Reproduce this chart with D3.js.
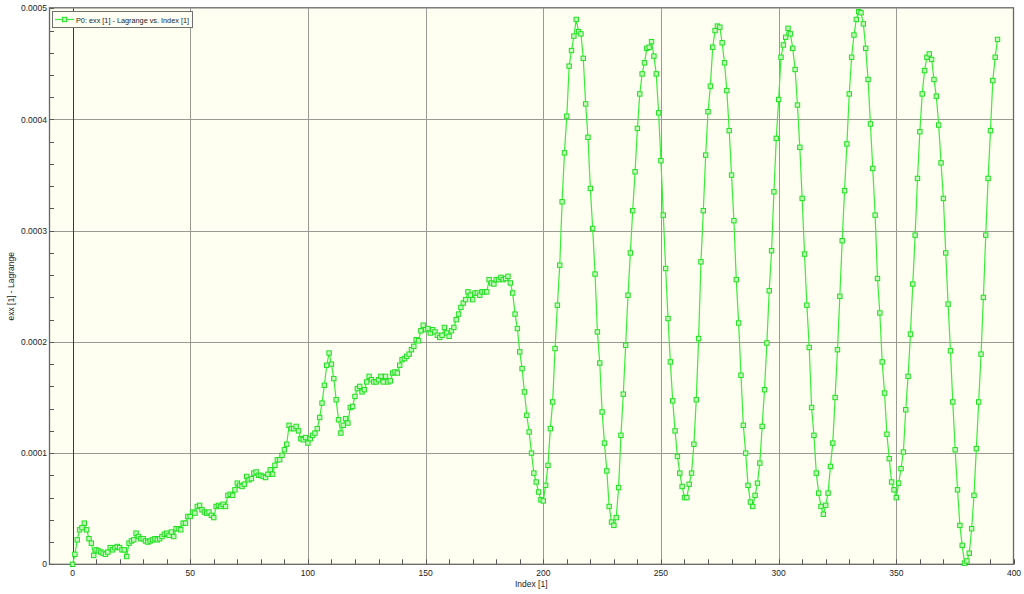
<!DOCTYPE html>
<html><head><meta charset="utf-8">
<script src="https://cdn.jsdelivr.net/npm/d3@7"></script>
<style>
body{margin:0;background:#fff}
svg{display:block}
text{font-family:"Liberation Sans",Arial,sans-serif;fill:#222}
</style>
</head><body>
<svg id="chart" width="1024" height="594"></svg>
<script>
// exx values in units of 1e-6, Index 0..393
const exxPart1 = [0,9,22,31,33,37,31,23,19,8,13,12,11,10,9,11,15,13,15,16,15,13,13,7,19,21,22,28,25,23,23,21,20,21,22,23,22,23,25,27,28,26,29,25,32,32,31,37,37,43,
  43,47,46,52,53,49,47,46,47,44,42,52,53,52,54,52,62,63,62,67,73,71,70,72,79,76,77,82,83,80,80,79,78,81,85,81,89,94,94,98,103,108,125,122,122,124,120,113,112,114];
const exxPart2 = [109,113,116,118,122,132,145,161,179,190,180,167,148,130,118,125,131,127,141,142,151,158,160,155,157,164,169,166,164,164,166,169,164,169,164,165,172,173,172,179,184,185,187,189,193,196,202,201,210,215,
  211,212,208,211,209,206,204,206,213,208,205,210,213,220,225,231,235,238,245,242,238,244,244,242,245,245,245,256,253,252,256,256,258,256,257,259,253,244,225,212,191,176,155,134,119,100,82,74,65,58];
const exxPart3 = [57,71,89,122,146,194,233,269,326,370,403,448,462,475,490,479,477,455,414,384,338,302,261,209,181,137,109,84,52,38,35,42,69,116,153,197,242,280,318,353,392,423,441,451,464,465,470,457,441,406,
  363,314,266,221,182,147,120,97,82,70,60,60,72,82,108,148,203,272,318,368,407,430,465,480,484,483,469,451,426,390,350,309,256,217,170,125,100,71,56,52,62,73,91,124,157,199,246,282,335,383];
const exxPart4 = [418,456,467,474,482,477,464,445,413,375,329,279,233,195,141,116,82,64,52,45,53,64,88,109,150,193,241,291,336,378,423,456,476,490,497,496,486,464,436,396,356,314,257,226,182,154,117,95,74,67,
  60,73,86,101,139,169,207,252,296,347,389,423,444,456,459,454,436,421,395,361,329,280,234,192,146,103,67,35,17,1,3,10,32,62,104,146,189,240,296,347,390,435,456,472];
const MICRO = 1e-6;

const xMajorTicks = [0,50,100,150,200,250,300,350,400];
const xMinorTicks = d3.range(-10, 401, 10);
const yMajorTicks = [0,0.0001,0.0002,0.0003,0.0004,0.0005];
const yTickLabels = ["0","0.0001","0.0002","0.0003","0.0004","0.0005"];
const yMinorTicks = d3.range(0, 0.000501, 0.00002);
const xTitle = "Index [1]";
const yTitle = "exx [1] - Lagrange";
const legendLabel = "P0: exx [1] - Lagrange vs. Index [1]";

const exx = [...exxPart1, ...exxPart2, ...exxPart3, ...exxPart4];
const data = exx.map((v, i) => ({index: i, value: v * MICRO}));

const svg = d3.select("#chart");
const L = 49, R = 1014, T = 8.3, B = 564.3;
const x = d3.scaleLinear().domain([-10, 400]).range([L, R]);
const y = d3.scaleLinear().domain([0, 0.0005]).range([B, T]);

// plot background
svg.append("rect").attr("x", L).attr("y", T).attr("width", R - L).attr("height", B - T)
  .attr("fill", "#fffff1");

// grid
svg.append("g").selectAll("line").data(xMajorTicks.filter(d => d > 0 && d < 400)).join("line")
  .attr("x1", d => Math.round(x(d)) + 0.5).attr("x2", d => Math.round(x(d)) + 0.5)
  .attr("y1", T).attr("y2", B).attr("stroke", "#9a9a94").attr("stroke-width", 1);
svg.append("g").selectAll("line").data(yMajorTicks.filter(d => d > 0 && d < 0.0005)).join("line")
  .attr("x1", L).attr("x2", R)
  .attr("y1", d => Math.round(y(d)) + 0.5).attr("y2", d => Math.round(y(d)) + 0.5)
  .attr("stroke", "#9a9a94").attr("stroke-width", 1);
// zero line
svg.append("line").attr("x1", Math.round(x(0)) + 0.5).attr("x2", Math.round(x(0)) + 0.5)
  .attr("y1", T).attr("y2", B).attr("stroke", "#3a3a3a").attr("stroke-width", 1);

// minor ticks (inside)
svg.append("g").selectAll("line").data(xMinorTicks).join("line")
  .attr("x1", d => Math.round(x(d)) + 0.5).attr("x2", d => Math.round(x(d)) + 0.5)
  .attr("y1", B).attr("y2", B - 5).attr("stroke", "#555");
svg.append("g").selectAll("line").data(yMinorTicks).join("line")
  .attr("x1", L).attr("x2", L + 5)
  .attr("y1", d => Math.round(y(d)) + 0.5).attr("y2", d => Math.round(y(d)) + 0.5)
  .attr("stroke", "#555");

// frame
svg.append("rect").attr("x", L + 0.5).attr("y", T - 0.5).attr("width", R - L - 1).attr("height", B - T + 0.5)
  .attr("fill", "none").attr("stroke", "#666").attr("stroke-width", 1.3);

// tick labels
svg.append("g").selectAll("text").data(xMajorTicks).join("text")
  .attr("x", d => x(d)).attr("y", B + 11.5).attr("text-anchor", "middle")
  .attr("font-size", "8.5px").text(d => d);
svg.append("g").selectAll("text").data(yMajorTicks).join("text")
  .attr("x", L - 2).attr("y", d => y(d) + 3).attr("text-anchor", "end")
  .attr("font-size", "8.5px").text((d, i) => yTickLabels[i]);

// titles
svg.append("text").attr("x", (x(0) + x(400)) / 2 - 12).attr("y", B + 22.5).attr("text-anchor", "middle")
  .attr("font-size", "8.5px").text(xTitle);
svg.append("text").attr("transform", `translate(14,${(T + B) / 2}) rotate(-90)`)
  .attr("text-anchor", "middle").attr("font-size", "8.5px").text(yTitle);

// series
const lineColor = "#38ee38";
svg.append("path").datum(data)
  .attr("d", d3.line().x(d => x(d.index)).y(d => y(d.value)))
  .attr("fill", "none").attr("stroke", lineColor).attr("stroke-width", 1.2);
svg.append("g").selectAll("rect").data(data).join("rect")
  .attr("x", d => x(d.index) - 2.2).attr("y", d => y(d.value) - 2.2)
  .attr("width", 4.4).attr("height", 4.4)
  .attr("fill", "#c4f8bc").attr("stroke", "#1ee01e").attr("stroke-width", 1);

// legend
const lg = svg.append("g");
lg.append("rect").attr("x", 52.5).attr("y", 11.5).attr("width", 140).attr("height", 16)
  .attr("fill", "#fffff4").attr("stroke", "#707070");
lg.append("line").attr("x1", 55).attr("x2", 74).attr("y1", 19.5).attr("y2", 19.5)
  .attr("stroke", lineColor).attr("stroke-width", 1.2);
lg.append("rect").attr("x", 62.3).attr("y", 17.3).attr("width", 4.4).attr("height", 4.4)
  .attr("fill", "#c4f8bc").attr("stroke", "#1ee01e");
lg.append("text").attr("x", 76).attr("y", 22.5).attr("font-size", "8px")
  .attr("textLength", 113).attr("lengthAdjust", "spacingAndGlyphs").text(legendLabel);
</script>
</body></html>
